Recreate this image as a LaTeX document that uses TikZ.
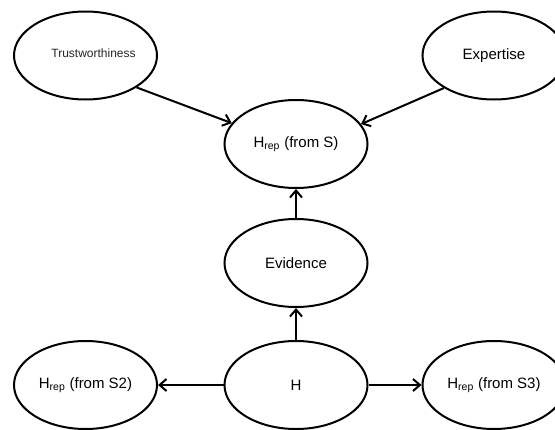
\documentclass[tikz,border=0pt]{standalone}
\usepackage{fontspec}
\setmainfont{Liberation Sans}
\usetikzlibrary{shapes.geometric,arrows.meta}
\begin{document}
\begin{tikzpicture}[x=1pt,y=-1pt,
  var/.style={ellipse,draw=black,line width=2pt,fill=white,inner sep=0pt,
    minimum width=143pt,minimum height=88pt,font=\fontsize{15}{18}\selectfont},
  link/.style={line width=2pt,-{Straight Barb[length=7pt,width=12pt]}}]
  \useasboundingbox (0,0) rectangle (555,429);
  \fill[white] (0,0) rectangle (555,429);
  \clip (0,0) rectangle (555,429);

  % variables
  \node[var] (trust) at (85.5,55.5) {};
  \node[font=\fontsize{12}{14}\selectfont,text=black!85,inner sep=0pt]
    (trusttext) at ([xshift=8pt,yshift=2pt]trust.center) {Trustworthiness};
  \node[var] (exp) at (494,55.5) {Expertise};
  \node[var] (hs) at (296,144) {H\textsubscript{rep} (from S)};
  \node[var] (ev) at (296,263) {Evidence};
  \node[var] (h) at (296,385) {H};
  \node[var] (hs2) at (85.5,385) {H\textsubscript{rep} (from S2)};
  \node[var] (hs3) at (494,385) {H\textsubscript{rep} (from S3)};

  % influences
  \draw[link] (trust.-32) -- (hs.162);
  \draw[link] (exp.213) -- (hs.17);
  \draw[link] (ev.north) -- (hs.south);
  \draw[link] (h.north) -- (ev.south);
  \draw[link] (h.west) -- (hs2.east);
  \draw[link] (h.east) -- (hs3.west);
\end{tikzpicture}
\end{document}
